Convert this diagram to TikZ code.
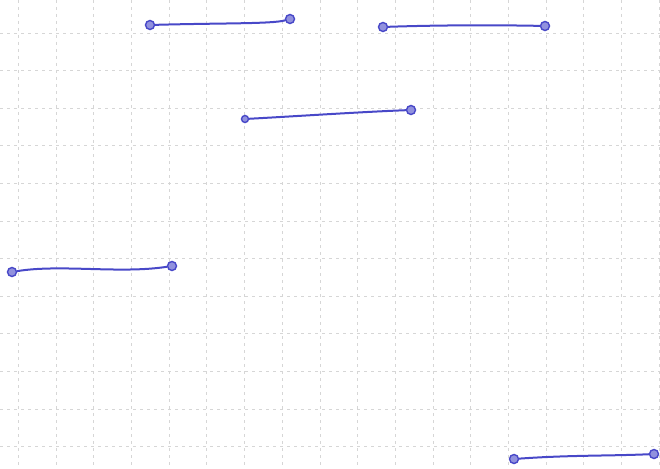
\documentclass[tikz,border=0pt]{standalone}
\begin{document}
\begin{tikzpicture}[x=1pt,y=-1pt,
  gridline/.style={draw=gray!32, line width=0.7pt, dash pattern=on 3pt off 4pt},
  penline/.style={draw=penblue, line width=2pt, line cap=round},
  pendot/.style={circle, draw=penblue, fill=penblue!60, line width=1.4pt, minimum size=9pt, inner sep=0pt}]
\definecolor{penblue}{HTML}{4848C8}
\fill[white] (0,0) rectangle (660,468);
\useasboundingbox (0,0) rectangle (660,468);
% grid
\foreach \i in {0,...,17} {
  \draw[gridline] ({18.3+37.7*\i},0) -- ({18.3+37.7*\i},468);
}
\foreach \j in {0,...,11} {
  \draw[gridline] (0,{33+37.6*\j}) -- (660,{33+37.6*\j});
}
% endpoints
\node[pendot] (a1) at (150,25) {};
\node[pendot] (a2) at (290,19) {};
\node[pendot] (b1) at (383,27) {};
\node[pendot] (b2) at (545,26) {};
\node[pendot, minimum size=7pt] (c1) at (245,119) {};
\node[pendot] (c2) at (411,110) {};
\node[pendot] (d1) at (12,272) {};
\node[pendot] (d2) at (172,266) {};
\node[pendot] (e1) at (514,459) {};
\node[pendot] (e2) at (654,454) {};
% strokes
\draw[penline] (a1) .. controls (220,23) and (272,24) .. (a2);
\draw[penline] (b1) .. controls (440,25) and (500,25) .. (b2);
\draw[penline] (c1) .. controls (300,116) and (360,112) .. (c2);
\draw[penline] (d1) .. controls (60,264) and (120,274) .. (d2);
\draw[penline] (e1) .. controls (570,455) and (610,456) .. (e2);
\end{tikzpicture}
\end{document}
